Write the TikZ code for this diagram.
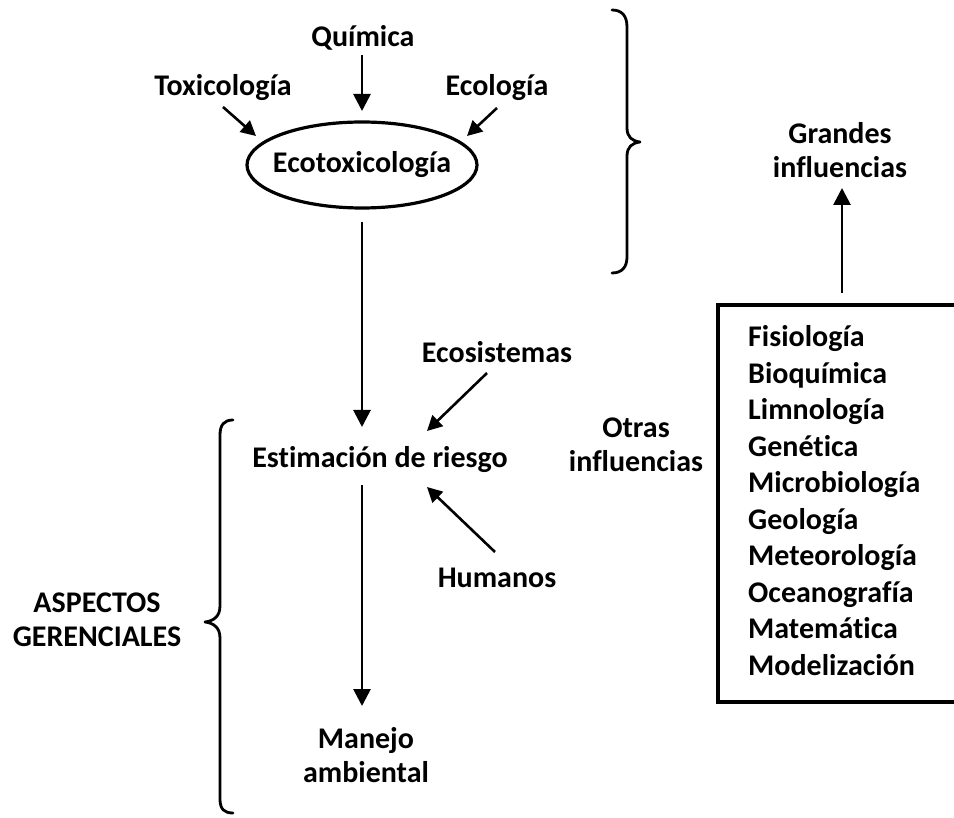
\documentclass[tikz,border=0pt]{standalone}
\usepackage{fontspec}
\setmainfont{Carlito}[Ligatures=NoCommon]
\usetikzlibrary{arrows.meta,shapes.geometric}
\begin{document}
\begin{tikzpicture}[x=1pt,y=-1pt,
  lbl/.style={font=\fontsize{30}{34.5}\selectfont\bfseries, align=center, inner sep=0pt},
  arr/.style={line width=2.8pt, -{Triangle[width=17pt,length=17pt]}},
  sarr/.style={line width=2.6pt, -{Triangle[width=15pt,length=15pt]}},
  brace/.style={line width=2.8pt, line cap=round, line join=round},
  boxline/.style={line width=3.2pt}]
\useasboundingbox (0,0) rectangle (954,818);

\node[lbl] (quim) at (363,38) {Química};
\node[lbl] (toxi) at (223,88) {Toxicología};
\node[lbl] (ecol) at (497,88) {Ecología};
\node[draw, ellipse, line width=3.2pt, minimum width=230pt, minimum height=86pt, inner sep=0pt] (eco) at (362,165) {};
\node[lbl] (ecot) at (eco.center) {Ecotoxicología};
\node[lbl] (est) at (380,460) {Estimación de riesgo};
\node[lbl] (ecos) at (497,352) {Ecosistemas};
\node[lbl] (hum) at (497,578) {Humanos};
\node[lbl] (man) at (366,755) {Manejo\\ambiental};
\node[lbl] (asp) at (97,620) {ASPECTOS\\GERENCIALES};
\node[lbl] (gran) at (840,150) {Grandes\\influencias};
\node[lbl] (otras) at (636,445) {Otras\\influencias};

\node[font=\fontsize{30}{36.45}\selectfont\bfseries, align=left, anchor=base west, inner sep=0pt] (list) at (748,675)
  {Fisiología\\Bioquímica\\Limnología\\Genética\\Microbiología\\Geología\\Meteorología\\Oceanografía\\Matemática\\Modelización};

% box (right side runs off the picture)
\coordinate (bxr1) at (954,305);
\coordinate (bxl1) at (718,305);
\coordinate (bxl2) at (718,702);
\coordinate (bxr2) at (954,702);
\draw[boxline] (bxr1) -- (bxl1) -- (bxl2) -- (bxr2);
\coordinate (boxtop) at (842,293);
\coordinate (gbot) at (842,188);

% arrows
\coordinate (q1) at (362,55);
\coordinate (q2) at (362,111);
\draw[arr] (q1) -- (q2);
\coordinate (t1) at (223,107);
\coordinate (t2) at (256,136);
\draw[sarr] (t1) -- (t2);
\coordinate (e1) at (497,108);
\coordinate (e2) at (467,136);
\draw[sarr] (e1) -- (e2);
\coordinate (v1) at (362,222);
\coordinate (v2) at (362,427);
\draw[arr] (v1) -- (v2);
\coordinate (s1) at (487,373);
\coordinate (s2) at (427,431);
\draw[sarr] (s1) -- (s2);
\coordinate (h1) at (495,552);
\coordinate (h2) at (427,487);
\draw[sarr] (h1) -- (h2);
\coordinate (m1) at (362,485);
\coordinate (m2) at (362,706);
\draw[arr] (m1) -- (m2);
\draw[arr] (boxtop) -- (gbot);

% top-right brace
\draw[brace] (612,10) .. controls (622,10) and (627,16) .. (627,27)
  -- (627,128) .. controls (627,137) and (632,141) .. (640,142)
  .. controls (632,143) and (627,147) .. (627,156)
  -- (627,257) .. controls (627,267) and (622,273) .. (612,273);

% left brace
\draw[brace] (233,420) .. controls (224,420) and (220,425) .. (220,435)
  -- (220,606) .. controls (220,616) and (214,621) .. (205,622)
  .. controls (214,623) and (220,628) .. (220,638)
  -- (220,799) .. controls (220,809) and (224,813) .. (233,813);
\end{tikzpicture}
\end{document}
